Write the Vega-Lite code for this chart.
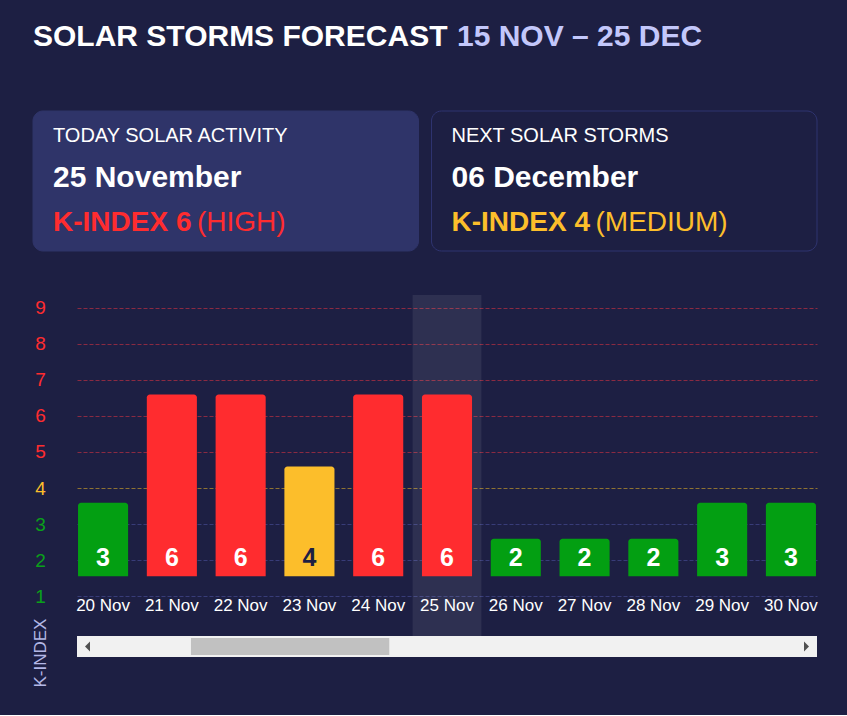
{
  "$schema": "https://vega.github.io/schema/vega-lite/v6.json",
  "background": "#1d1f43",
  "padding": {"left": 31, "top": 0, "right": 31, "bottom": 28},
  "spacing": 43,
  "bounds": "full",
  "config": {
    "view": {"stroke": null},
    "font": "Liberation Sans",
    "axis": {"labelFont": "Liberation Sans", "titleFont": "Liberation Sans"}
  },
  "datasets": {
    "header": [
      {"part": "main", "text": "SOLAR STORMS FORECAST"},
      {"part": "range", "text": "15 NOV – 25 DEC"}
    ],
    "cards": [
      {"card": "today", "label": "TODAY SOLAR ACTIVITY", "date": "25 November", "kidx": "K-INDEX 6", "lvl": "(HIGH)", "level": "high"},
      {"card": "next", "label": "NEXT SOLAR STORMS", "date": "06 December", "kidx": "K-INDEX 4", "lvl": "(MEDIUM)", "level": "medium"}
    ],
    "days": [
      {"date": "20 Nov", "k": 3, "level": "low", "today": false},
      {"date": "21 Nov", "k": 6, "level": "high", "today": false},
      {"date": "22 Nov", "k": 6, "level": "high", "today": false},
      {"date": "23 Nov", "k": 4, "level": "medium", "today": false},
      {"date": "24 Nov", "k": 6, "level": "high", "today": false},
      {"date": "25 Nov", "k": 6, "level": "high", "today": true},
      {"date": "26 Nov", "k": 2, "level": "low", "today": false},
      {"date": "27 Nov", "k": 2, "level": "low", "today": false},
      {"date": "28 Nov", "k": 2, "level": "low", "today": false},
      {"date": "29 Nov", "k": 3, "level": "low", "today": false},
      {"date": "30 Nov", "k": 3, "level": "low", "today": false}
    ],
    "scroll": [
      {"part": "track", "x0": 0, "x1": 1, "y0": 0, "y1": 1},
      {"part": "thumb", "x0": 0.154, "x1": 0.422, "y0": 0.1, "y1": 0.9}
    ],
    "arrows": [
      {"dir": "left", "x": 0.0142},
      {"dir": "right", "x": 0.9858}
    ]
  },
  "vconcat": [
    {
      "width": 740,
      "height": 67,
      "data": {"name": "header"},
      "layer": [
        {
          "transform": [{"filter": "datum.part === 'main'"}],
          "mark": {"type": "text", "align": "left", "baseline": "middle", "fontSize": 30, "fontWeight": "bold", "color": "#ffffff", "dx": -44, "dy": 3},
          "encoding": {"x": {"value": 0}, "text": {"field": "text"}}
        },
        {
          "transform": [{"filter": "datum.part === 'range'"}],
          "mark": {"type": "text", "align": "left", "baseline": "middle", "fontSize": 30, "fontWeight": "bold", "color": "#c3c7fb", "dx": 380, "dy": 3},
          "encoding": {"x": {"value": 0}, "text": {"field": "text"}}
        }
      ]
    },
    {
      "width": 740,
      "height": 140,
      "data": {"name": "cards"},
      "encoding": {
        "x": {"field": "card", "type": "nominal", "sort": ["today", "next"], "scale": {"range": [-44, 740], "paddingInner": 0.0326, "paddingOuter": 0}, "axis": null}
      },
      "layer": [
        {
          "transform": [{"filter": "datum.card === 'today'"}],
          "mark": {"type": "bar", "cornerRadius": 10, "fill": "#2f3469", "stroke": "#2f3469", "strokeWidth": 1},
          "encoding": {}
        },
        {
          "transform": [{"filter": "datum.card === 'next'"}],
          "mark": {"type": "bar", "cornerRadius": 10, "fill": "#1d1f43", "stroke": "#2f3470", "strokeWidth": 1},
          "encoding": {}
        },
        {
          "mark": {"type": "text", "align": "left", "baseline": "middle", "fontSize": 20, "color": "#ffffff", "dx": 20, "dy": -45.5},
          "encoding": {"x": {"field": "card", "type": "nominal", "sort": ["today", "next"], "bandPosition": 0}, "text": {"field": "label"}}
        },
        {
          "mark": {"type": "text", "align": "left", "baseline": "middle", "fontSize": 30, "fontWeight": "bold", "color": "#ffffff", "dx": 20, "dy": -3},
          "encoding": {"x": {"field": "card", "type": "nominal", "sort": ["today", "next"], "bandPosition": 0}, "text": {"field": "date"}}
        },
        {
          "mark": {"type": "text", "align": "left", "baseline": "middle", "fontSize": 28, "fontWeight": "bold", "dx": 20, "dy": 41.5},
          "encoding": {
            "x": {"field": "card", "type": "nominal", "sort": ["today", "next"], "bandPosition": 0},
            "text": {"field": "kidx"},
            "color": {"condition": {"test": "datum.level === 'high'", "value": "#ff2c2f"}, "value": "#fcbe2b"}
          }
        },
        {
          "mark": {"type": "text", "align": "left", "baseline": "middle", "fontSize": 28, "fontWeight": "normal", "dx": 164, "dy": 41.5},
          "encoding": {
            "x": {"field": "card", "type": "nominal", "sort": ["today", "next"], "bandPosition": 0},
            "text": {"field": "lvl"},
            "color": {"condition": {"test": "datum.level === 'high'", "value": "#ff2c2f"}, "value": "#fcbe2b"}
          }
        }
      ]
    },
    {
      "spacing": 0,
      "bounds": "flush",
      "vconcat": [
        {
          "width": 740,
          "height": 341,
          "data": {"name": "days"},
          "encoding": {
            "x": {
              "field": "date", "type": "ordinal",
              "scale": {"domain": ["20 Nov", "21 Nov", "22 Nov", "23 Nov", "24 Nov", "25 Nov", "26 Nov", "27 Nov", "28 Nov", "29 Nov", "30 Nov"], "paddingInner": 0.272, "paddingOuter": 0.015},
              "axis": {"title": null, "orient": "bottom", "offset": -39, "labelAngle": 0, "labelColor": "#ffffff", "labelFontSize": 17, "labelPadding": 0, "domain": false, "ticks": false, "tickSize": 0, "labelOverlap": false, "grid": false}
            }
          },
          "layer": [
            {
              "transform": [{"filter": "datum.today"}],
              "mark": {"type": "bar", "color": "#ffffff", "opacity": 0.08, "width": {"band": 1.3735}},
              "encoding": {}
            },
            {
              "mark": {"type": "bar", "cornerRadiusTopLeft": 3, "cornerRadiusTopRight": 3, "yOffset": -21.5, "y2Offset": -20},
              "encoding": {
                "y": {
                  "field": "k", "type": "quantitative",
                  "scale": {"domain": [-0.1, 9.35], "nice": false, "zero": false},
                  "axis": {
                    "title": "K-INDEX",
                    "values": [1, 2, 3, 4, 5, 6, 7, 8, 9],
                    "grid": true,
                    "gridDash": [4, 2],
                    "gridWidth": 1,
                    "gridColor": {"condition": [{"test": "datum.value >= 5", "value": "#8a2a42"}, {"test": "datum.value == 4", "value": "#8e7232"}], "value": "#383c78"},
                    "domain": false,
                    "ticks": false,
                    "tickSize": 0,
                    "labelPadding": 37,
                    "labelAlign": "center",
                    "labelBaseline": "middle",
                    "labelFontSize": 19,
                    "labelColor": {"condition": [{"test": "datum.value >= 5", "value": "#ff2c2f"}, {"test": "datum.value == 4", "value": "#fcbe2b"}], "value": "#0aa01a"},
                    "titleAngle": -90,
                    "titleX": -37,
                    "titleY": 392,
                    "titleAlign": "left",
                    "titleBaseline": "middle",
                    "titleFontSize": 17,
                    "titleFontWeight": "normal",
                    "titleColor": "#b3b7e6"
                  }
                },
                "y2": {"datum": 1},
                "color": {"condition": [{"test": "datum.level === 'high'", "value": "#ff2c2f"}, {"test": "datum.level === 'medium'", "value": "#fcbe2b"}], "value": "#039f12"}
              }
            },
            {
              "mark": {"type": "text", "baseline": "middle", "align": "center", "fontSize": 25, "fontWeight": "bold", "dy": -38},
              "encoding": {
                "y": {"datum": 1, "type": "quantitative"},
                "text": {"field": "k", "type": "quantitative"},
                "color": {"condition": {"test": "datum.k === 4", "value": "#1d1f43"}, "value": "#ffffff"}
              }
            }
          ]
        },
        {
          "width": 740,
          "height": 21,
          "layer": [
            {
              "data": {"name": "scroll"},
              "transform": [{"filter": "datum.part === 'track'"}],
              "mark": {"type": "rect", "color": "#f1f1f1"},
              "encoding": {
                "x": {"field": "x0", "type": "quantitative", "scale": {"domain": [0, 1], "nice": false, "zero": false}, "axis": null},
                "x2": {"field": "x1"},
                "y": {"field": "y0", "type": "quantitative", "scale": {"domain": [0, 1], "nice": false, "zero": false}, "axis": null},
                "y2": {"field": "y1"}
              }
            },
            {
              "data": {"name": "scroll"},
              "transform": [{"filter": "datum.part === 'thumb'"}],
              "mark": {"type": "rect", "color": "#c1c1c1"},
              "encoding": {
                "x": {"field": "x0", "type": "quantitative"},
                "x2": {"field": "x1"},
                "y": {"field": "y0", "type": "quantitative"},
                "y2": {"field": "y1"}
              }
            },
            {
              "data": {"name": "arrows"},
              "mark": {"type": "point", "filled": true, "size": 100, "opacity": 1, "color": "#505050"},
              "encoding": {
                "x": {"field": "x", "type": "quantitative"},
                "y": {"datum": 0.5, "type": "quantitative"},
                "shape": {"field": "dir", "type": "nominal", "scale": {"domain": ["left", "right"], "range": ["M0.5,-1L-0.5,0L0.5,1Z", "M-0.5,-1L0.5,0L-0.5,1Z"]}, "legend": null}
              }
            }
          ]
        }
      ]
    }
  ]
}
